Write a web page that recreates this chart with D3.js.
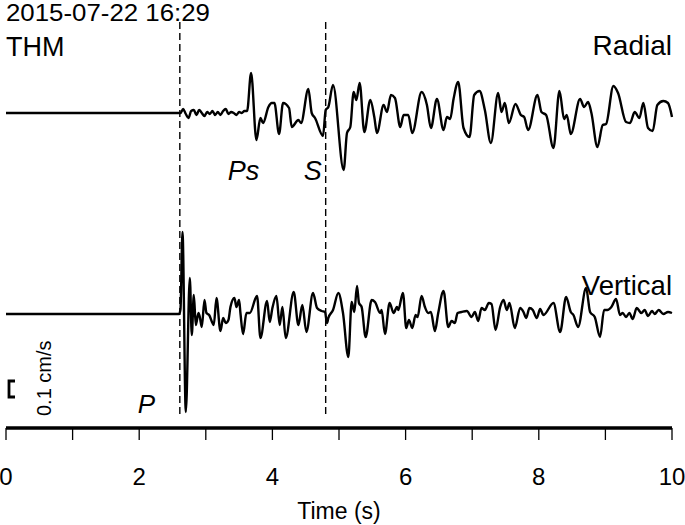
<!DOCTYPE html>
<html>
<head>
<meta charset="utf-8">
<script src="https://cdn.jsdelivr.net/npm/d3@7"></script>
<style>
  html, body { margin: 0; padding: 0; background: #fff; }
  svg { display: block; }
  text { font-family: "Liberation Sans", Arial, sans-serif; fill: #000; }
</style>
</head>
<body>
<svg id="chart" width="685" height="525"></svg>
<script>
// ---------- data ----------
const title = "2015-07-22 16:29";
const station = "THM";
const channels = ["Radial", "Vertical"];

// Radial component: time (s) and amplitude (counts; 16 counts = 0.1 cm/s)
const radialT = [0, 2.60, 2.62, 2.66, 2.70, 2.74, 2.78, 2.82, 2.86, 2.90, 2.94, 2.98, 3.02, 3.06, 3.10, 3.14, 3.18, 3.22, 3.26, 3.30, 3.34, 3.38, 3.42, 3.46, 3.50, 3.54, 3.58, 3.62,
  3.68, 3.76, 3.82, 3.86, 3.94, 3.99, 4.03, 4.10, 4.16, 4.25, 4.29, 4.39, 4.43, 4.54, 4.59, 4.64, 4.76, 4.80, 4.84, 4.91,
  5.07, 5.12, 5.17, 5.22, 5.26, 5.31, 5.38, 5.47, 5.53, 5.57, 5.67, 5.72, 5.78, 5.84, 5.92, 5.97, 6.04, 6.10, 6.24, 6.32, 6.38, 6.47, 6.57, 6.62, 6.67, 6.72, 6.79, 6.87, 6.96,
  7.03, 7.11, 7.19, 7.28, 7.39, 7.44, 7.49, 7.55, 7.65, 7.73, 7.78, 7.84, 7.98, 8.04, 8.11, 8.22, 8.31, 8.38, 8.42, 8.48, 8.62, 8.68, 8.74, 8.79, 8.88, 8.96, 9.01,
  9.12, 9.19, 9.31, 9.37, 9.44, 9.51, 9.57, 9.64, 9.71, 9.78, 9.87, 9.94, 10.0];
const radialA = [0, 0, 0, 4, -1, -5, 2, 3, -2, 3, 0, -3, 1, -1, 2, -2, 1, -2, 2, 4, -1, 1, 0, -2, 1, 0, 2, 2,
  40, -27, -5, -10, 6, 10, 10, -21, 10, 5, -14, -7, -10, 24, 0, -5, -23, 3, 6, 28,
  -57, -20, -14, 21, 13, 30, -19, 13, -4, -20, 8, 1, 18, 15, -14, -2, -2, -20, 21, 8, -15, 14, -17, -4, -6, 14, 31, -15, -24,
  18, 22, 3, -30, 20, 1, 10, -10, 9, -2, -4, -17, 18, 1, -2, -35, 22, -6, -2, -21, 14, 6, 11, 0, -34, -12, -11,
  27, 20, -9, -10, 1, -5, 10, -15, -18, 8, 12, 10, -4];

// Vertical component
const verticalT = [0, 2.60, 2.62, 2.65, 2.70, 2.76, 2.79, 2.82, 2.85, 2.89, 2.91, 2.94, 2.98, 3.01, 3.05, 3.10, 3.12, 3.16, 3.22, 3.26, 3.30, 3.34, 3.37, 3.43, 3.46, 3.50, 3.52, 3.56, 3.61, 3.66,
  3.77, 3.82, 3.92, 3.96, 4.00, 4.06, 4.11, 4.15, 4.20, 4.32, 4.39, 4.45, 4.51, 4.61, 4.67, 4.74, 4.79, 4.82, 4.84, 4.91, 4.99,
  5.06, 5.14, 5.19, 5.23, 5.27, 5.30, 5.34, 5.40, 5.49, 5.54, 5.62, 5.64, 5.69, 5.76, 5.82, 5.87, 5.89, 5.96, 6.01, 6.05, 6.10, 6.15, 6.18, 6.24, 6.29, 6.34, 6.38, 6.44, 6.49, 6.57, 6.64, 6.69, 6.74, 6.78, 6.84, 6.92, 6.99,
  7.04, 7.09, 7.14, 7.19, 7.25, 7.29, 7.35, 7.42, 7.47, 7.52, 7.56, 7.64, 7.72, 7.77, 7.81, 7.86, 7.91, 7.97, 8.02, 8.07, 8.22, 8.32, 8.41, 8.48, 8.52, 8.59, 8.71, 8.77, 8.84, 8.92, 8.98,
  9.03, 9.09, 9.16, 9.22, 9.26, 9.31, 9.36, 9.41, 9.47, 9.54, 9.59, 9.64, 9.70, 9.74, 9.80, 9.87, 9.94, 10.0];
const verticalA = [0, 0, 5, 82, -98, 36, -21, 19, -11, 1, -3, -13, 14, 1, -1, -9, -11, 16, -17, -4, -9, -6, 7, 16, 7, 14, 1, -20, 1, 1,
  18, -24, 13, -8, 6, 18, -11, 7, -24, 22, -11, 9, -18, 21, 6, 3, 2, -9, -4, 4, 21,
  1, -43, 12, 2, 28, 11, 7, -23, 14, 12, 1, 4, -20, 11, 1, 7, 4, 21, -14, -6, -14, -1, -3, 18, 7, 1, 2, -17, 1, 23, -13, -7, -9, 1, 2, 3, -3,
  2, -7, 6, 4, 11, 10, -16, 7, 14, 4, 11, -14, 6, 2, -4, 6, 4, -4, 5, -1, 11, -18, 17, 2, -1, -13, 26, 2, -3, -23, 4,
  4, 7, 15, -1, 1, -3, 1, -5, 6, 1, 4, -2, 3, 0, 4, 0, 2, 1];

const xTicks = [0, 1, 2, 3, 4, 5, 6, 7, 8, 9, 10];
const xTickLabels = [0, 2, 4, 6, 8, 10];
const xLabel = "Time (s)";

// phase picks
const phaseLines = [2.61, 4.80];
const radialPicks = [{name: "Ps", t: 3.33}, {name: "S", t: 4.47}];
const verticalPicks = [{name: "P", t: 1.98}];

const scaleBarCounts = 16;
const scaleBarLabel = "0.1 cm/s";

// ---------- drawing ----------
const svg = d3.select("#chart");
const x = d3.scaleLinear().domain([0, 10]).range([6, 672]);

const radialY = d3.scaleLinear().domain([-100, 100]).range([113 + 100, 113 - 100]);
const verticalY = d3.scaleLinear().domain([-100, 100]).range([314 + 100, 314 - 100]);

// dashed phase lines
svg.selectAll("line.phase").data(phaseLines).enter().append("line")
  .attr("class", "phase")
  .attr("x1", d => x(d)).attr("x2", d => x(d))
  .attr("y1", 22).attr("y2", 414)
  .attr("stroke", "#000").attr("stroke-width", 1.4)
  .attr("stroke-dasharray", "7,4");

const line = (ys) => d3.line().x(d => x(d[0])).y(d => ys(d[1])).curve(d3.curveMonotoneX);

svg.append("path")
  .datum(d3.zip(radialT, radialA))
  .attr("d", line(radialY))
  .attr("fill", "none").attr("stroke", "#000").attr("stroke-width", 2.4)
  .attr("stroke-linejoin", "round");

svg.append("path")
  .datum(d3.zip(verticalT, verticalA))
  .attr("d", line(verticalY))
  .attr("fill", "none").attr("stroke", "#000").attr("stroke-width", 2.4)
  .attr("stroke-linejoin", "round");

// axis
const axisG = svg.append("g").attr("transform", "translate(0,428)");
axisG.append("line")
  .attr("x1", x(0)).attr("x2", x(10)).attr("y1", 0).attr("y2", 0)
  .attr("stroke", "#000").attr("stroke-width", 3.5);
axisG.selectAll("line.tick").data(xTicks).enter().append("line")
  .attr("class", "tick")
  .attr("x1", d => x(d)).attr("x2", d => x(d))
  .attr("y1", 0).attr("y2", 12)
  .attr("stroke", "#000").attr("stroke-width", 1.3);
axisG.selectAll("text.tl").data(xTickLabels).enter().append("text")
  .attr("class", "tl")
  .attr("x", d => x(d)).attr("y", 57)
  .attr("text-anchor", "middle")
  .style("font-size", "24px")
  .text(d => d);
svg.append("text")
  .attr("x", x(5)).attr("y", 519)
  .attr("text-anchor", "middle")
  .style("font-size", "23px")
  .text(xLabel);

// header text
svg.append("text").attr("x", 6).attr("y", 21).style("font-size", "24px")
  .attr("textLength", 204).attr("lengthAdjust", "spacingAndGlyphs").text(title);
svg.append("text").attr("x", 6).attr("y", 56).style("font-size", "27px").text(station);

// channel labels
svg.append("text").attr("x", 672).attr("y", 55).attr("text-anchor", "end")
  .style("font-size", "28px").text(channels[0]);
svg.append("text").attr("x", 672).attr("y", 295).attr("text-anchor", "end")
  .style("font-size", "27.5px").text(channels[1]);

// phase names
svg.selectAll("text.rp").data(radialPicks).enter().append("text")
  .attr("class", "rp")
  .attr("x", d => x(d.t)).attr("y", 180)
  .style("font-size", "27px").style("font-style", "italic")
  .text(d => d.name);
svg.selectAll("text.vp").data(verticalPicks).enter().append("text")
  .attr("class", "vp")
  .attr("x", d => x(d.t)).attr("y", 413)
  .style("font-size", "26px").style("font-style", "italic")
  .text(d => d.name);

// scale bar
const sbTop = 381;
const sbBot = sbTop + (verticalY(0) - verticalY(scaleBarCounts));
svg.append("path")
  .attr("d", `M15,${sbTop} H9 V${sbBot} H15`)
  .attr("fill", "none").attr("stroke", "#000").attr("stroke-width", 2.8);
svg.append("text")
  .attr("transform", "translate(51,416) rotate(-90)")
  .style("font-size", "20px")
  .text(scaleBarLabel);
</script>
</body>
</html>
